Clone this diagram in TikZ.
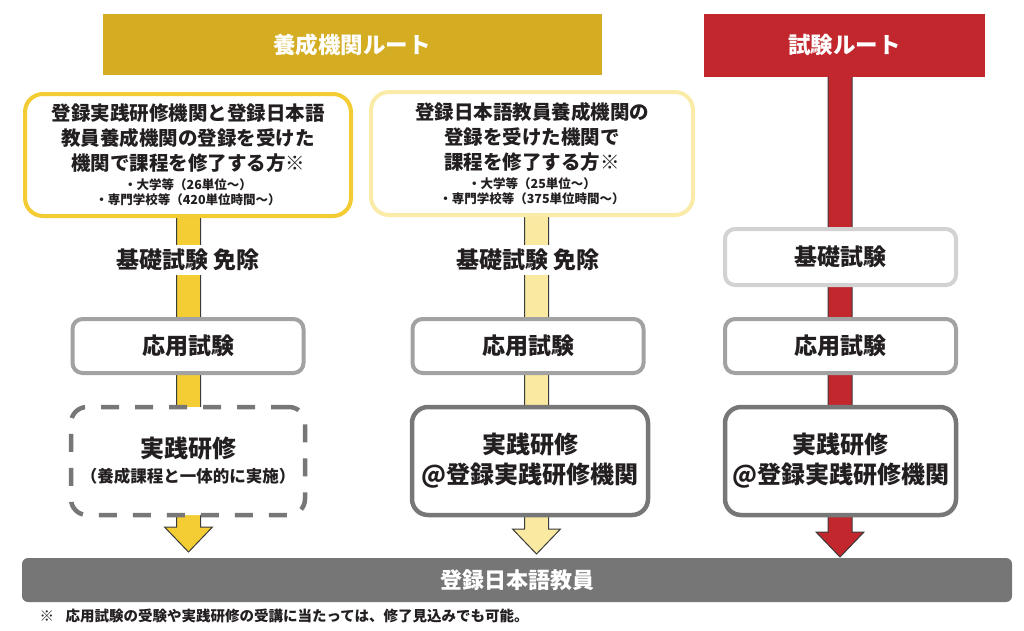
\documentclass[tikz,border=0pt]{standalone}
\usepackage{fontspec}
\setmainfont{Noto Sans CJK JP}
\usetikzlibrary{positioning, calc, backgrounds}

\definecolor{goldhead}{HTML}{D4AD22}
\definecolor{redroute}{HTML}{C1272D}
\definecolor{goldbar}{HTML}{F3CD33}
\definecolor{goldline}{HTML}{F3CB33}
\definecolor{palebar}{HTML}{FAE9A0}
\definecolor{paleline}{HTML}{FAEBA8}
\definecolor{graymid}{HTML}{A2A2A2}
\definecolor{graylight}{HTML}{D2D2D2}
\definecolor{graydark}{HTML}{777777}
\definecolor{graybar}{HTML}{767676}
\definecolor{pipeline}{HTML}{3A3A3A}
\definecolor{ink}{HTML}{231F20}

\newcommand{\smallt}{\fontsize{12.5}{15}\selectfont}

\begin{document}
\begin{tikzpicture}[x=1pt, y=-1pt, node distance=86pt, text=ink]
    % Styles
    \tikzstyle{header} = [rectangle, minimum height=61pt, text=white, font=\bfseries\fontsize{22.5}{27}\selectfont]
    \tikzstyle{route} = [rectangle, draw, line width=4pt, rounded corners=18pt, fill=white, align=center, minimum width=326pt, minimum height=122pt, inner sep=0pt, font=\bfseries\fontsize{19.5}{25}\selectfont]
    \tikzstyle{exempt} = [fill=white, inner sep=4pt, font=\bfseries\fontsize{23}{28}\selectfont]
    \tikzstyle{exam} = [rectangle, draw=graymid, line width=4pt, rounded corners=10pt, fill=white, minimum width=231pt, minimum height=54pt, font=\bfseries\fontsize{23}{28}\selectfont]
    \tikzstyle{train} = [rectangle, draw=graydark, line width=4.5pt, rounded corners=16pt, fill=white, align=center, minimum width=234pt, minimum height=108pt, font=\bfseries\fontsize{24}{30}\selectfont]
    \tikzstyle{pipe} = [draw=pipeline, line width=1pt, line join=miter]

    \useasboundingbox (0,0) rectangle (1024,630);

    % Headers
    \node [header, fill=goldhead, minimum width=499pt] (hdrA) at (352,44.5) {養成機関ルート};
    \node [header, fill=redroute, minimum width=281pt, minimum height=63pt] (hdrB) at (844.5,45) {試験ルート};

    % Left column
    \node [route, draw=goldline] (srcA) at (188,155) {登録実践研修機関と登録日本語\\教員養成機関の登録を受けた\\機関で課程を修了する方※\\[-6pt]\smallt ・大学等（26単位～）\\[-10pt]\smallt ・専門学校等（420単位時間～）};
    \node [exempt, below of=srcA, node distance=105pt] (exA) {基礎試験 免除};
    \node [exam, below of=exA] (applyA) {応用試験};
    \node [train, dashed, dash pattern=on 18pt off 16pt, below of=applyA, node distance=115pt] (practA) {実践研修\\[-5pt]\fontsize{16.5}{20}\selectfont （養成課程と一体的に実施）};

    % Middle column
    \node [route, draw=paleline, minimum width=322pt, minimum height=123pt] (srcB) at (532,153.5) {登録日本語教員養成機関の\\登録を受けた機関で\\課程を修了する方※\\[-6pt]\smallt ・大学等（25単位～）\\[-10pt]\smallt ・専門学校等（375単位時間～）};
    \node [exempt, below of=srcB, node distance=106.5pt, xshift=-4pt] (exB) {基礎試験 免除};
    \node [exam, below of=exB] (applyB) {応用試験};
    \node [train, below of=applyB, node distance=115pt, minimum width=236pt, xshift=2pt] (practB) {実践研修\\@登録実践研修機関};

    % Right column
    \node [exam, draw=graylight, minimum height=56pt] (baseC) at (840.5,257) {基礎試験};
    \node [exam, below of=baseC, node distance=89pt] (applyC) {応用試験};
    \node [train, below of=applyC, node distance=115pt, minimum width=231pt] (practC) {実践研修\\@登録実践研修機関};

    % Goal and note
    \node [rectangle, fill=graybar, rounded corners=6pt, minimum width=990pt, minimum height=44pt, text=white, font=\bfseries\fontsize{22}{26}\selectfont] (teacher) at (517,580) {登録日本語教員};
    \node [anchor=west, font=\bfseries\fontsize{14.5}{18}\selectfont] (note) at (36,616) {※\hspace{0.8em}応用試験の受験や実践研修の受講に当たっては、修了見込みでも可能。};

    % Arrow ends
    \coordinate (tipA) at (188.5,552);
    \coordinate (tipB) at (536.5,554);
    \coordinate (tipC) at (840,557);
    \coordinate (topA) at (srcA.center -| tipA);
    \coordinate (topB) at (srcB.center -| tipB);
    \coordinate (topC) at (hdrB.center -| tipC);

    % Pipes
    \begin{scope}[on background layer]
    \draw [pipe, fill=goldbar] ($(topA)+(-12,0)$) -- ($(tipA)+(-12,-25)$) -- ($(tipA)+(-24,-25)$) -- (tipA) -- ($(tipA)+(24,-25)$) -- ($(tipA)+(12,-25)$) -- ($(topA)+(12,0)$) -- cycle;
    \draw [pipe, fill=palebar] ($(topB)+(-12,0)$) -- ($(tipB)+(-12,-25)$) -- ($(tipB)+(-24,-25)$) -- (tipB) -- ($(tipB)+(24,-25)$) -- ($(tipB)+(12,-25)$) -- ($(topB)+(12,0)$) -- cycle;
    \draw [pipe, fill=redroute] ($(topC)+(-12,0)$) -- ($(tipC)+(-12,-25)$) -- ($(tipC)+(-24,-25)$) -- (tipC) -- ($(tipC)+(24,-25)$) -- ($(tipC)+(12,-25)$) -- ($(topC)+(12,0)$) -- cycle;
    \end{scope}

\end{tikzpicture}
\end{document}
